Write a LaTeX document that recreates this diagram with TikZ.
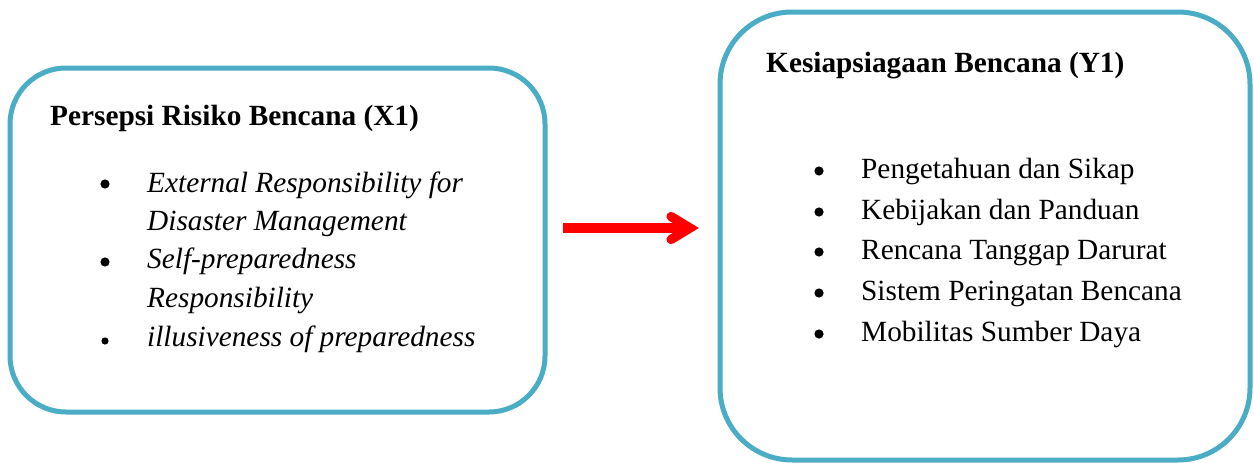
\documentclass[tikz,border=0pt]{standalone}
\usepackage{fontspec}
\setmainfont{Liberation Serif}
\definecolor{boxblue}{RGB}{75,172,198}
\definecolor{arrowred}{RGB}{255,0,0}
\begin{document}
\begin{tikzpicture}[x=1pt,y=-1pt,
  framebox/.style={draw=boxblue, line width=5pt, fill=white, inner sep=0pt},
  txt/.style={anchor=base west, inner sep=0pt, font=\fontsize{29.3}{36}\selectfont},
  ttl/.style={txt, font=\fontsize{29.3}{36}\selectfont\bfseries},
  itl/.style={txt, font=\fontsize{29.3}{36}\selectfont\itshape},
  dot/.style={fill=black},
  flow/.style={draw=arrowred, line width=9.2pt},
  chevron/.style={draw=arrowred, line width=9.2pt, line cap=round, line join=miter}
]
\useasboundingbox (0,0) rectangle (1254,463);
\fill[white] (0,0) rectangle (1254,463);

% boxes
\node[framebox, rounded corners=56pt, minimum width=535pt, minimum height=344pt] (L) at (277.5,240) {};
\node[framebox, rounded corners=72pt, minimum width=530pt, minimum height=448pt] (R) at (985,236) {};

% left texts
\node[ttl] (lt) at (50,125) {Persepsi Risiko Bencana (X1)};
\node[itl] (l1a) at (147,192) {External Responsibility for};
\node[itl] (l1b) at (147,230) {Disaster Management};
\node[itl] (l2a) at (147,268) {Self-preparedness};
\node[itl] (l2b) at (147,307) {Responsibility};
\node[itl] (l3) at (147,346) {illusiveness of preparedness};
\fill[dot] (105,184) circle (4.6);
\fill[dot] (105,262) circle (4.6);
\fill[dot] (105,341) circle (3.6);

% right texts
\node[ttl] (rt) at (766,72) {Kesiapsiagaan Bencana (Y1)};
\node[txt] (r1) at (861,178) {Pengetahuan dan Sikap};
\node[txt] (r2) at (861,219) {Kebijakan dan Panduan};
\node[txt] (r3) at (861,259.5) {Rencana Tanggap Darurat};
\node[txt] (r4) at (861,300) {Sistem Peringatan Bencana};
\node[txt] (r5) at (861,341) {Mobilitas Sumber Daya};
\foreach \yy in {171,212,252,293,334} \fill[dot] (819,\yy) circle (4.6);

% arrow
\coordinate (as) at (563,228);
\coordinate (ae) at (690,228);
\draw[flow] (as) -- (ae);
\draw[chevron] ([shift={(-19,-11.5)}]ae) -- (ae) -- ([shift={(-19,11.5)}]ae);
\end{tikzpicture}
\end{document}
